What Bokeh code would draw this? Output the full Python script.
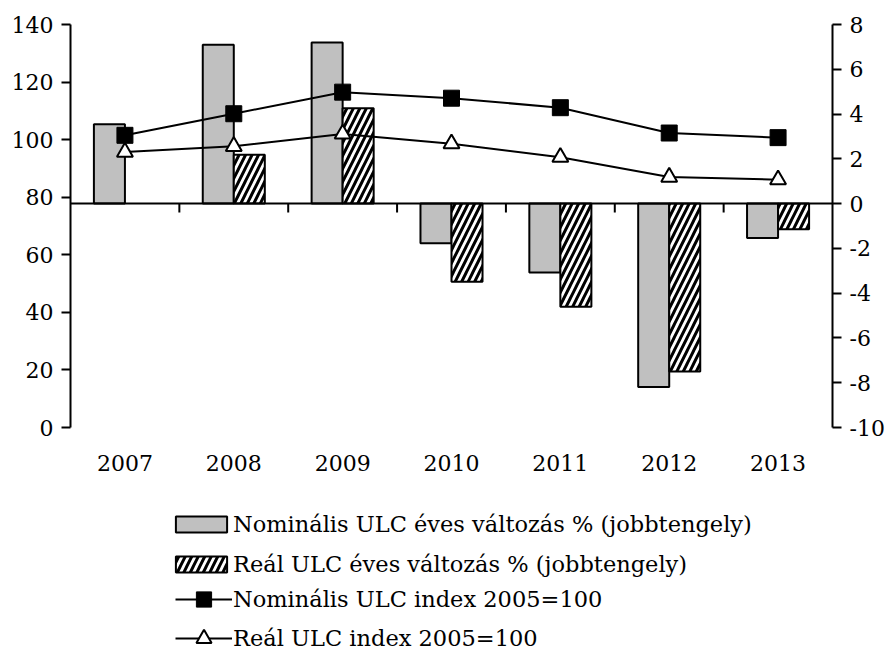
from bokeh.plotting import figure
from bokeh.models import (Range1d, LinearAxis, FixedTicker, Span, Legend, LegendItem,
                          ColumnDataSource)
from bokeh.core.properties import value
from bokeh.embed import file_html
from bokeh.resources import INLINE

# ---- data ----
years = ["2007", "2008", "2009", "2010", "2011", "2012", "2013"]
nominal_change = [3.55, 7.1, 7.2, -1.77, -3.08, -8.19, -1.54]      # right axis, %
real_change = [None, 2.18, 4.26, -3.49, -4.61, -7.5, -1.15]         # right axis, %
nominal_index = [101.5, 109.0, 116.5, 114.4, 111.1, 102.3, 100.7]  # left axis
real_index = [95.7, 97.7, 102.0, 98.6, 93.9, 87.0, 86.1]           # left axis
left_ticks = [0, 20, 40, 60, 80, 100, 120, 140]
right_ticks = [-10, -8, -6, -4, -2, 0, 2, 4, 6, 8]

labels = ["Nominális ULC éves változás % (jobbtengely)",
          "Reál ULC éves változás % (jobbtengely)",
          "Nominális ULC index 2005=100",
          "Reál ULC index 2005=100"]

FONT = "DejaVu Serif"
xs = list(range(len(years)))

# layout geometry (pixels): axis area 403px tall, 226px below it for labels + legend
AXIS_PX, BELOW_PX = 403, 226
L0, L1 = 0, 140
R0, R1 = -10, 8
left_start = L0 - (L1 - L0) * BELOW_PX / AXIS_PX
right_start = R0 - (R1 - R0) * BELOW_PX / AXIS_PX

p = figure(width=891, height=653, output_backend="svg", toolbar_location=None,
           x_range=Range1d(-0.5, len(years) - 0.5),
           y_range=Range1d(left_start, L1),
           min_border_left=70, min_border_right=59, min_border_top=24,
           min_border_bottom=0, x_axis_location=None, y_axis_location=None)
p.outline_line_color = None
p.grid.visible = False
p.background_fill_color = "white"
p.border_fill_color = "white"
p.extra_y_ranges = {"right": Range1d(right_start, R1)}

# axes
def style_axis(ax):
    ax.axis_line_width = 2
    ax.axis_line_color = "black"
    ax.major_tick_line_width = 2
    ax.major_tick_line_color = "black"
    ax.major_tick_in = 0
    ax.major_tick_out = 9
    ax.minor_tick_line_color = None
    ax.major_label_text_font = FONT
    ax.major_label_text_font_size = "22px"
    ax.major_label_text_color = "black"
    ax.major_label_standoff = 8

yl = LinearAxis(ticker=FixedTicker(ticks=left_ticks), bounds=(L0, L1))
style_axis(yl)
p.add_layout(yl, "left")

yr = LinearAxis(y_range_name="right", ticker=FixedTicker(ticks=right_ticks),
                bounds=(R0, R1),
                major_label_overrides={t: str(t) for t in right_ticks})
style_axis(yr)
p.add_layout(yr, "right")

# category labels under the axis area
p.text(x=xs, y=[L0 - 12.5] * len(xs), text=years, text_font=value(FONT),
       text_font_size="22px", text_align="center", text_baseline="middle",
       text_color="black")

# bars
bw = 0.285
src_n = ColumnDataSource(dict(x=[x - bw / 2 for x in xs], top=nominal_change,
                              bottom=[0] * len(xs)))
rx = [x + bw / 2 for x, v in zip(xs, real_change) if v is not None]
rv = [v for v in real_change if v is not None]
src_r = ColumnDataSource(dict(x=rx, top=rv, bottom=[0] * len(rv)))

bar_n = p.vbar(x="x", top="top", bottom="bottom", width=bw, source=src_n,
               y_range_name="right", fill_color="#c0c0c0", line_color="black",
               line_width=2)
bar_r = p.vbar(x="x", top="top", bottom="bottom", width=bw, source=src_r,
               y_range_name="right", fill_color="white", line_color="black",
               line_width=2, hatch_pattern="/", hatch_color="black",
               hatch_weight=3, hatch_scale=13)

# zero line and category ticks
p.add_layout(Span(location=0, dimension="width", y_range_name="right",
                  line_color="black", line_width=2))
bounds = [x + 0.5 for x in xs[:-1]]
p.segment(x0=bounds, x1=bounds, y0=[0] * len(bounds), y1=[-0.4] * len(bounds),
          y_range_name="right", line_color="black", line_width=2)

# lines
ln_n = p.line(xs, nominal_index, line_color="black", line_width=2)
mk_n = p.scatter(xs, nominal_index, marker="square", size=16, fill_color="black",
                 line_color="black", line_width=1)
ln_r = p.line(xs, real_index, line_color="black", line_width=2)
mk_r = p.scatter(xs, real_index, marker="triangle", size=16, fill_color="white",
                 line_color="black", line_width=2)

def style_legend(lg):
    lg.border_line_color = None
    lg.background_fill_alpha = 0
    lg.label_text_font = FONT
    lg.label_text_font_size = "22.5px"
    lg.label_text_color = "black"
    lg.padding = 0
    lg.margin = 0

legA = Legend(items=[
    LegendItem(label=labels[0], renderers=[bar_n]),
    LegendItem(label=labels[1], renderers=[bar_r]),
], orientation="vertical", location=(99, 76))
style_legend(legA)
legA.glyph_width = 64
legA.glyph_height = 20
legA.label_standoff = 0
legA.spacing = 14

legB = Legend(items=[
    LegendItem(label=labels[2], renderers=[ln_n, mk_n]),
    LegendItem(label=labels[3], renderers=[ln_r, mk_r]),
], orientation="vertical", location=(105, -4))
style_legend(legB)
legB.glyph_width = 57
legB.glyph_height = 38
legB.label_standoff = 1
legB.spacing = 1

p.add_layout(legA, "center")
p.add_layout(legB, "center")

open("out.html", "w").write(file_html(p, INLINE))
